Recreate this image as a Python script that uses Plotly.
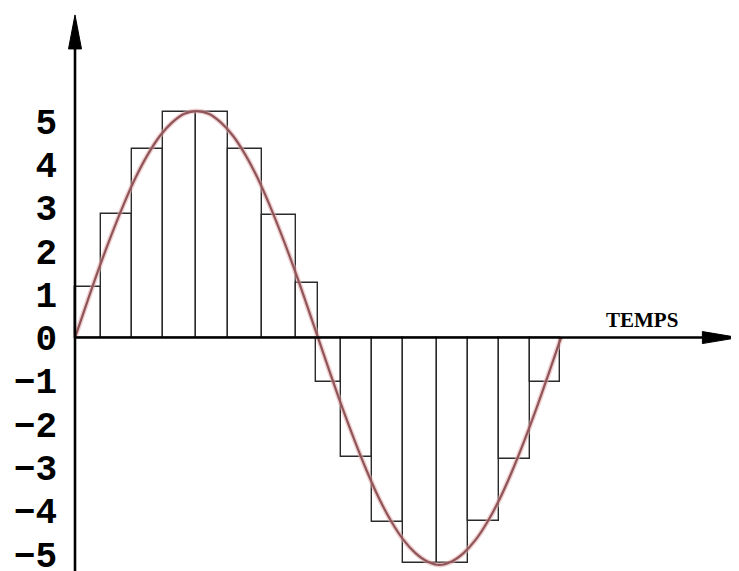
import plotly.graph_objects as go

# ---- data ----
# sample-and-hold step boundaries (time units) and held values
pos_edges = [0.0, 1.07, 2.35, 3.62, 4.98, 6.30, 7.70, 9.09, 10.0]
pos_values = [1.17, 2.85, 4.35, 5.21, 5.21, 4.35, 2.82, 1.26]
neg_edges = [9.92, 10.95, 12.22, 13.50, 14.90, 16.17, 17.45, 18.72, 19.96]
neg_values = [-1.03, -2.76, -4.26, -5.2, -5.2, -4.23, -2.81, -1.03]

# analog signal curve read at half-unit intervals
curve_t = [0, 0.5, 1, 1.5, 2, 2.5, 3, 3.5, 4, 4.5, 5, 5.5, 6, 6.5, 7, 7.5, 8, 8.5, 9, 9.5, 10,
           10.5, 11, 11.5, 12, 12.5, 13, 13.5, 14, 14.5, 15, 15.5, 16, 16.5, 17, 17.5, 18, 18.5, 19, 19.5, 20]
curve_v = [0, 0.82, 1.62, 2.37, 3.07, 3.70, 4.23, 4.66, 4.97, 5.17, 5.23, 5.17, 4.97, 4.66, 4.23, 3.70, 3.07, 2.37, 1.62, 0.82, 0,
           -0.82, -1.62, -2.37, -3.07, -3.70, -4.23, -4.66, -4.97, -5.17, -5.25, -5.17, -4.97, -4.66, -4.23, -3.70, -3.07, -2.37, -1.62, -0.82, 0]

y_ticks = [-5, -4, -3, -2, -1, 0, 1, 2, 3, 4, 5]
y_ticktext = ["\u22125", "\u22124", "\u22123", "\u22122", "\u22121", "0", "1", "2", "3", "4", "5"]
axis_title = "TEMPS"

# ---- figure ----
# the page body has an 8px margin, so the figure is sized to end at the window edge
W, H = 731, 563
ML = 50
X_RANGE = [-0.6996, 27.325]
Y_RANGE = [-5.39, 7.61]

xs, ws, ys = [], [], []
for edges, vals in [(pos_edges, pos_values), (neg_edges, neg_values)]:
    for i, v in enumerate(vals):
        xs.append((edges[i] + edges[i + 1]) / 2)
        ws.append(edges[i + 1] - edges[i])
        ys.append(v)

fig = go.Figure()
fig.add_trace(go.Bar(x=xs, y=ys, width=ws, base=0,
                     marker=dict(color="rgba(0,0,0,0)", line=dict(color="#2a2a2a", width=1.4)),
                     hoverinfo="skip", showlegend=False))
fig.add_trace(go.Scatter(x=curve_t, y=curve_v, mode="lines", line=dict(color="rgba(225,170,172,0.55)", width=5, shape="spline"),
                         hoverinfo="skip", showlegend=False, cliponaxis=False))
fig.add_trace(go.Scatter(x=curve_t, y=curve_v, mode="lines", line=dict(color="#8f5558", width=2.2, shape="spline"),
                         showlegend=False, cliponaxis=False))

y_tip = 7.45
x_tip = 27.3
# axis lines
fig.add_shape(type="line", x0=0, x1=0, y0=Y_RANGE[0] - 0.2, y1=y_tip - 0.3, line=dict(color="black", width=2.6))
fig.add_shape(type="line", x0=0, x1=x_tip - 0.5, y0=0, y1=0, line=dict(color="black", width=2.6))
# arrow heads (pixel sized)
fig.add_shape(type="path", xref="x", yref="y", xsizemode="pixel", ysizemode="pixel",
              xanchor=0, yanchor=y_tip, path="M0,0 L-6.5,-34 L6.5,-34 Z",
              fillcolor="black", line=dict(color="black", width=1))
fig.add_shape(type="path", xref="x", yref="y", xsizemode="pixel", ysizemode="pixel",
              xanchor=x_tip, yanchor=0, path="M0,0 L-36,6 L-36,-6 Z",
              fillcolor="black", line=dict(color="black", width=1))

fig.add_annotation(x=23.33, y=0.40, text="<b>" + axis_title + "</b>", showarrow=False,
                   font=dict(family="Liberation Serif", size=21, color="black"))

fig.update_layout(
    width=W, height=H, margin=dict(l=ML, r=0, t=0, b=0, autoexpand=False),
    paper_bgcolor="white", plot_bgcolor="white",
    xaxis=dict(range=X_RANGE, visible=False, fixedrange=True, automargin=False),
    yaxis=dict(range=Y_RANGE, tickvals=y_ticks, ticktext=y_ticktext, showgrid=False, zeroline=False,
               showline=False, ticks="", automargin=False, ticklabeloverflow="allow",
               tickfont=dict(family="Liberation Mono", size=36, color="black", weight="bold")),
    bargap=0,
)

fig.write_html("out.html")
